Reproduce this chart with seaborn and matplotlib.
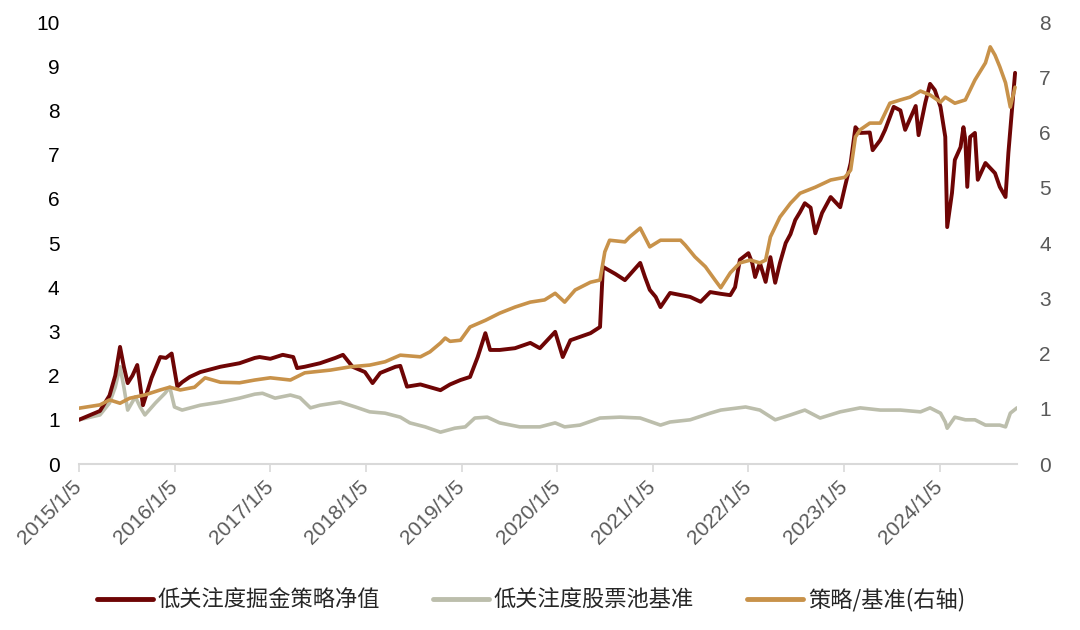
import matplotlib
matplotlib.use("Agg")
import matplotlib.pyplot as plt
import seaborn as sns
import pandas as pd
import numpy as np
from matplotlib.lines import Line2D

# ---------------- data (decimal years) ----------------
strat_t = [2015.01, 2015.23, 2015.33, 2015.39, 2015.44, 2015.48, 2015.52, 2015.57, 2015.62, 2015.68,
           2015.77, 2015.86, 2015.92, 2015.98, 2016.04, 2016.09, 2016.17, 2016.28, 2016.49, 2016.69,
           2016.85, 2016.90, 2017.01, 2017.14, 2017.25, 2017.29, 2017.37, 2017.53, 2017.69, 2017.77,
           2017.87, 2018.00, 2018.08, 2018.16, 2018.32, 2018.37, 2018.44, 2018.58, 2018.79, 2018.89,
           2019.00, 2019.10, 2019.18, 2019.26, 2019.31, 2019.41, 2019.57, 2019.73, 2019.83, 2019.99,
           2020.07, 2020.15, 2020.36, 2020.46, 2020.49, 2020.62, 2020.72, 2020.88, 2020.93, 2020.98,
           2021.04, 2021.09, 2021.19, 2021.40, 2021.51, 2021.61, 2021.72, 2021.82, 2021.87, 2021.92,
           2022.01, 2022.05, 2022.08, 2022.13, 2022.19, 2022.24, 2022.29, 2022.34, 2022.40, 2022.45,
           2022.50, 2022.55, 2022.60, 2022.66, 2022.71, 2022.78, 2022.87, 2022.97, 2023.02, 2023.08,
           2023.13, 2023.18, 2023.28, 2023.31, 2023.39, 2023.44, 2023.53, 2023.60, 2023.65, 2023.76,
           2023.79, 2023.86, 2023.91, 2023.96, 2024.02, 2024.07, 2024.09, 2024.14, 2024.17, 2024.23,
           2024.26, 2024.28, 2024.30, 2024.33, 2024.38, 2024.41, 2024.49, 2024.59, 2024.64, 2024.70,
           2024.73, 2024.77, 2024.80]
strat_v = [1.00, 1.20, 1.55, 2.00, 2.65, 2.20, 1.83, 2.00, 2.24, 1.33,
           1.95, 2.42, 2.40, 2.50, 1.75, 1.85, 1.97, 2.08, 2.20, 2.28,
           2.40, 2.42, 2.38, 2.47, 2.42, 2.17, 2.20, 2.28, 2.40, 2.47,
           2.20, 2.08, 1.83, 2.06, 2.20, 2.22, 1.75, 1.80, 1.67, 1.80,
           1.90, 1.97, 2.42, 2.96, 2.58, 2.58, 2.62, 2.74, 2.62, 2.99,
           2.42, 2.80, 2.96, 3.10, 4.46, 4.30, 4.16, 4.55, 4.23, 3.94,
           3.78, 3.55, 3.87, 3.78, 3.67, 3.89, 3.85, 3.82, 4.00, 4.62,
           4.77, 4.55, 4.23, 4.55, 4.12, 4.68, 4.10, 4.55, 5.00, 5.20,
           5.52, 5.70, 5.90, 5.80, 5.22, 5.68, 6.04, 5.81, 6.27, 6.81,
           7.62, 7.49, 7.50, 7.10, 7.33, 7.56, 8.08, 8.00, 7.56, 8.10,
           7.44, 8.17, 8.60, 8.46, 8.08, 7.40, 5.36, 6.13, 6.88, 7.17,
           7.62, 7.33, 6.27, 7.40, 7.49, 6.43, 6.81, 6.58, 6.27, 6.04,
           7.04, 8.08, 8.85]

bench_t = [2015.01, 2015.23, 2015.33, 2015.39, 2015.44, 2015.48, 2015.52, 2015.60, 2015.65, 2015.70,
           2015.81, 2015.91, 2015.96, 2016.01, 2016.09, 2016.28, 2016.49, 2016.69, 2016.85, 2016.93,
           2017.06, 2017.22, 2017.32, 2017.43, 2017.53, 2017.74, 2017.90, 2018.05, 2018.21, 2018.37,
           2018.47, 2018.63, 2018.79, 2018.94, 2019.05, 2019.15, 2019.28, 2019.41, 2019.62, 2019.83,
           2019.99, 2020.09, 2020.25, 2020.46, 2020.67, 2020.88, 2021.09, 2021.19, 2021.40, 2021.61,
           2021.72, 2021.98, 2022.13, 2022.29, 2022.45, 2022.60, 2022.76, 2022.97, 2023.18, 2023.39,
           2023.60, 2023.81, 2023.91, 2024.02, 2024.07, 2024.09, 2024.17, 2024.28, 2024.38, 2024.49,
           2024.64, 2024.70, 2024.75, 2024.82]
bench_v = [1.00, 1.11, 1.38, 1.74, 2.20, 1.74, 1.22, 1.52, 1.29, 1.11,
           1.38, 1.60, 1.74, 1.29, 1.22, 1.33, 1.40, 1.49, 1.58, 1.60,
           1.49, 1.56, 1.50, 1.27, 1.33, 1.40, 1.29, 1.18, 1.15, 1.06,
           0.93, 0.84, 0.72, 0.81, 0.84, 1.04, 1.06, 0.93, 0.84, 0.84,
           0.93, 0.84, 0.88, 1.04, 1.06, 1.04, 0.88, 0.95, 1.00, 1.15,
           1.22, 1.29, 1.22, 1.00, 1.11, 1.22, 1.04, 1.18, 1.27, 1.22,
           1.22, 1.18, 1.27, 1.15, 0.95, 0.81, 1.06, 1.00, 1.00, 0.88,
           0.88, 0.84, 1.15, 1.27]

ratio_t = [2015.01, 2015.23, 2015.33, 2015.44, 2015.54, 2015.70, 2015.86, 2015.96, 2016.07, 2016.22,
           2016.33, 2016.49, 2016.69, 2016.85, 2017.01, 2017.22, 2017.37, 2017.64, 2017.85, 2018.05,
           2018.21, 2018.37, 2018.58, 2018.68, 2018.79, 2018.84, 2018.89, 2019.00, 2019.10, 2019.26,
           2019.41, 2019.57, 2019.73, 2019.88, 2019.99, 2020.09, 2020.20, 2020.36, 2020.46, 2020.51,
           2020.56, 2020.72, 2020.77, 2020.88, 2020.98, 2021.09, 2021.30, 2021.35, 2021.45, 2021.56,
           2021.66, 2021.72, 2021.82, 2021.92, 2022.03, 2022.13, 2022.19, 2022.24, 2022.34, 2022.45,
           2022.55, 2022.71, 2022.87, 2023.02, 2023.08, 2023.13, 2023.18, 2023.28, 2023.39, 2023.49,
           2023.60, 2023.70, 2023.81, 2023.91, 2024.02, 2024.07, 2024.17, 2024.28, 2024.38, 2024.49,
           2024.54, 2024.59, 2024.64, 2024.70, 2024.75, 2024.80]
ratio_v = [1.01, 1.07, 1.16, 1.10, 1.19, 1.25, 1.34, 1.39, 1.34, 1.39,
           1.56, 1.48, 1.47, 1.52, 1.56, 1.52, 1.65, 1.70, 1.76, 1.79,
           1.85, 1.97, 1.94, 2.03, 2.19, 2.28, 2.22, 2.24, 2.48, 2.60,
           2.73, 2.84, 2.93, 2.97, 3.09, 2.93, 3.15, 3.29, 3.33, 3.84,
           4.05, 4.02, 4.11, 4.27, 3.93, 4.05, 4.05, 3.96, 3.75, 3.57,
           3.33, 3.19, 3.46, 3.64, 3.69, 3.64, 3.69, 4.11, 4.47, 4.72,
           4.90, 5.01, 5.14, 5.19, 5.32, 5.92, 6.05, 6.17, 6.17, 6.53,
           6.59, 6.64, 6.75, 6.68, 6.55, 6.64, 6.53, 6.59, 6.95, 7.26,
           7.55, 7.40, 7.19, 6.90, 6.46, 6.82]

tick_years = list(range(2015, 2025))
tick_labels = [f"{y}/1/5" for y in tick_years]
series_names = ["低关注度掘金策略净值", "低关注度股票池基准", "策略/基准(右轴)"]
colors = ["#6E0505", "#BCBEAC", "#C8924A"]


def to_date(t):
    y = int(t)
    return pd.Timestamp(year=y, month=1, day=1) + pd.Timedelta(days=(t - y) * 365.25)


strat_d = [to_date(t) for t in strat_t]
bench_d = [to_date(t) for t in bench_t]
ratio_d = [to_date(t) for t in ratio_t]

# ---------------- plotting ----------------
sns.set_theme(style="white")
plt.rcParams["font.family"] = ["Liberation Sans", "Noto Sans CJK SC", "DejaVu Sans"]

fig = plt.figure(figsize=(10.8, 6.3), dpi=100)
ax = fig.add_axes([79 / 1080, 1 - 464 / 630, (1017 - 79) / 1080, (464 - 22) / 630])
ax2 = ax.twinx()

sns.lineplot(x=bench_d, y=bench_v, ax=ax, color=colors[1], linewidth=2.6, legend=False)
sns.lineplot(x=strat_d, y=strat_v, ax=ax, color=colors[0], linewidth=2.8, legend=False)
sns.lineplot(x=ratio_d, y=ratio_v, ax=ax2, color=colors[2], linewidth=2.6, legend=False)

ax.set_ylim(0, 10)
ax2.set_ylim(0, 8)
ax.set_yticks(range(0, 11))
ax2.set_yticks(range(0, 9))
ax.set_xlim(pd.Timestamp("2015-01-05"), bench_d[-1])

ticks = [pd.Timestamp(f"{y}-01-05") for y in tick_years]
ax.set_xticks(ticks)
ax.set_xticklabels(tick_labels, rotation=45, ha="right", va="center", rotation_mode="anchor")

for a in (ax, ax2):
    for s in ("top", "left", "right"):
        a.spines[s].set_visible(False)
ax2.spines["bottom"].set_visible(False)
ax.spines["bottom"].set_color("#D9D9D9")
ax.spines["bottom"].set_linewidth(1.5)

ax.tick_params(axis="x", which="major", direction="out", length=6, width=1.2,
               color="#D9D9D9", labelsize=15, labelcolor="#595959", pad=8, bottom=True)
ax.tick_params(axis="y", length=0, labelsize=15, labelcolor="#000000", pad=14)
ax2.tick_params(axis="y", length=0, labelsize=15, labelcolor="#595959", pad=16)
ax.set_xlabel("")
ax.set_ylabel("")
ax2.set_ylabel("")
ax.grid(False)
ax2.grid(False)

handles = [Line2D([0], [0], color=c, lw=3.5) for c in colors]
fig.legend(handles, series_names, loc="center", bbox_to_anchor=(531 / 1080, 1 - 600 / 630),
           ncol=3, frameon=False, handlelength=2.5, handletextpad=0.22,
           columnspacing=2.4, prop={"family": ["Noto Sans CJK SC", "DejaVu Sans"], "size": 16})

fig.savefig("out.png", dpi=100)
